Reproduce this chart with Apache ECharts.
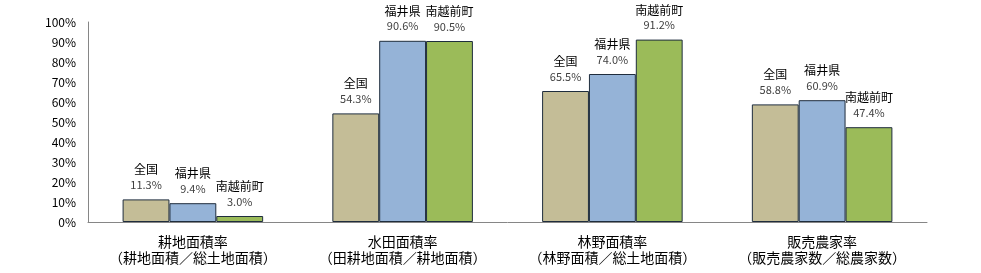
<!DOCTYPE html>
<html>
<head>
<meta http-equiv="Content-Type" content="text/html; charset=UTF-8">
<title>農業指標</title>
<script src="https://cdn.jsdelivr.net/npm/echarts@6/dist/echarts.min.js"></script>
<style>
	html, body { margin: 0; padding: 0; background: #fff; }
	#main { width: 981px; height: 273px; }
</style>
</head>
<body>
	<div id="main"></div>
	<script type="text/javascript">
		var categories = [ '耕地面積率\n（耕地面積／総土地面積）', '水田面積率\n（田耕地面積／耕地面積）',
				'林野面積率\n（林野面積／総土地面積）', '販売農家率\n（販売農家数／総農家数）' ];
		var seriesNames = [ '全国', '福井県', '南越前町' ];
		var zenkoku = [ 11.3, 54.3, 65.5, 58.8 ];
		var fukui = [ 9.4, 90.6, 74.0, 60.9 ];
		var minamiechizen = [ 3.0, 90.5, 91.2, 47.4 ];
		var colors = [ '#C4BD97', '#95B3D7', '#9BBB59' ];

		var font = '"Noto Sans CJK JP", sans-serif';

		function makeSeries(name, data, color) {
			return {
				name : name,
				type : 'bar',
				data : data,
				barGap : '0%',
				barCategoryGap : '33%',
				itemStyle : {
					color : color,
					borderColor : '#1F2D3D',
					borderWidth : 1
				},
				label : {
					show : true,
					position : 'top',
					distance : 7,
					formatter : function(p) {
						return '{n|' + p.seriesName + '}\n{v|' + p.value.toFixed(1) + '%}';
					},
					rich : {
						n : { fontFamily : font, fontSize : 12, color : '#000', lineHeight : 15 },
						v : { fontFamily : font, fontSize : 11, color : '#404040', lineHeight : 15 }
					}
				}
			};
		}

		var chart = echarts.init(document.getElementById('main'));
		chart.setOption({
			animation : false,
			grid : {
				left : 88,
				right : 54,
				top : 22,
				bottom : 51
			},
			xAxis : {
				type : 'category',
				data : categories,
				axisLine : { lineStyle : { color : '#868686' } },
				axisTick : { show : false },
				axisLabel : {
					interval : 0,
					fontFamily : font,
					fontSize : 14,
					color : '#000',
					lineHeight : 16,
					margin : 12
				}
			},
			yAxis : {
				type : 'value',
				min : 0,
				max : 100,
				interval : 10,
				axisLine : { show : true, lineStyle : { color : '#868686' } },
				axisTick : { show : false },
				splitLine : { show : false },
				axisLabel : {
					formatter : '{value}%',
					fontFamily : font,
					fontSize : 12,
					color : '#000',
					margin : 12
				}
			},
			series : [ makeSeries(seriesNames[0], zenkoku, colors[0]),
					makeSeries(seriesNames[1], fukui, colors[1]),
					makeSeries(seriesNames[2], minamiechizen, colors[2]) ]
		});
	</script>
</body>
</html>
